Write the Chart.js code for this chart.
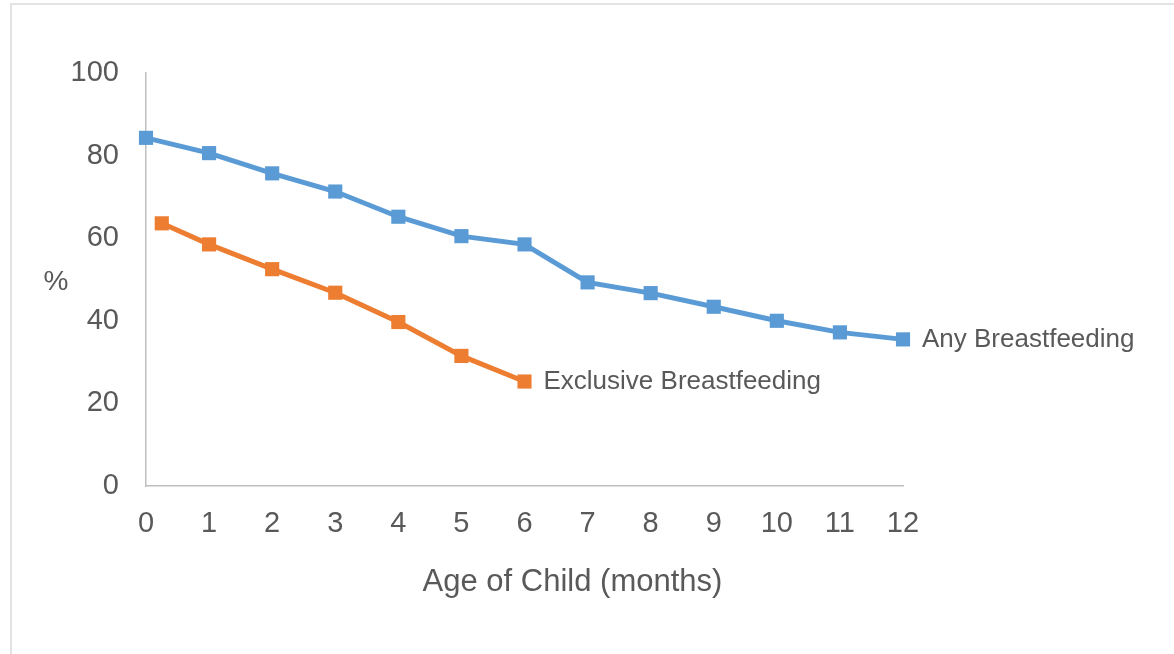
<!DOCTYPE html>
<html>
<head>
<meta charset="utf-8">
<script src="https://cdn.jsdelivr.net/npm/chart.js@4"></script>
<style>
  html, body { margin: 0; padding: 0; background: #fff; }
  #wrap { position: relative; width: 1174px; height: 654px; overflow: hidden; }
  #frame { position: absolute; left: 10px; top: 3px; right: -2px; bottom: -2px;
           border-top: 2px solid #e3e3e3; border-left: 2px solid #e3e3e3; pointer-events: none; }
  canvas { position: absolute; left: 0; top: 0; }
</style>
</head>
<body>
<div id="wrap">
  <canvas id="myChart" width="1174" height="654"></canvas>
  <div id="frame"></div>
</div>
<script>
// months on the x axis
let months = [0, 1, 2, 3, 4, 5, 6, 7, 8, 9, 10, 11, 12]
// any breastfeeding, %
let anyValues = [84.3, 80.6, 75.7, 71.3, 65.2, 60.5, 58.5, 49.3, 46.7, 43.4, 40.0, 37.2, 35.5]
// exclusive breastfeeding, % (first point sits just after birth)
let exclusiveMonths = [0.25, 1, 2, 3, 4, 5, 6]
let exclusiveValues = [63.6, 58.5, 52.5, 46.8, 39.7, 31.5, 25.3]
let seriesNames = ['Any Breastfeeding', 'Exclusive Breastfeeding']
let yTicks = [0, 20, 40, 60, 80, 100]
let xTitle = 'Age of Child (months)'
let yTitle = '%'

let textColor = '#595959'
let fontFamily = '"Liberation Sans", Arial, sans-serif'

function toPoints(xs, ys) {
  return xs.map(function(x, i) { return { x: x, y: ys[i] } })
}

// writes the series name next to the last point of each line, plus both axis titles
let endLabels = {
  id: 'endLabels',
  afterDatasetsDraw: function(chart) {
    let ctx = chart.ctx
    ctx.save()
    ctx.fillStyle = textColor
    ctx.font = '26px ' + fontFamily
    ctx.textBaseline = 'middle'
    ctx.textAlign = 'left'
    chart.data.datasets.forEach(function(ds, i) {
      let meta = chart.getDatasetMeta(i)
      let last = meta.data[meta.data.length - 1]
      ctx.fillText(ds.label, last.x + 19, last.y)
    })
    let area = chart.chartArea
    // horizontal y title
    ctx.font = '28px ' + fontFamily
    ctx.textAlign = 'center'
    ctx.fillText(yTitle, area.left - 90, (area.top + area.bottom) / 2 + 3)
    // x title, sits a little right of the axis centre like the original
    ctx.font = '31px ' + fontFamily
    ctx.fillText(xTitle, (area.left + area.right) / 2 + 48, area.bottom + 96)
    ctx.restore()
  }
}

new Chart('myChart', {
  type: 'line',
  data: {
    datasets: [{
      label: seriesNames[0],
      data: toPoints(months, anyValues),
      borderColor: '#5B9BD5',
      backgroundColor: '#5B9BD5',
      borderWidth: 5,
      pointStyle: 'rect',
      pointRadius: 10,
      pointBorderWidth: 0,
      tension: 0,
      clip: false
    }, {
      label: seriesNames[1],
      data: toPoints(exclusiveMonths, exclusiveValues),
      borderColor: '#ED7D31',
      backgroundColor: '#ED7D31',
      borderWidth: 5,
      pointStyle: 'rect',
      pointRadius: 10,
      pointBorderWidth: 0,
      tension: 0,
      clip: false
    }]
  },
  options: {
    responsive: false,
    animation: false,
    layout: { padding: { left: 0, right: 271, top: 73, bottom: 0 } },
    plugins: {
      legend: { display: false },
      tooltip: { enabled: false }
    },
    scales: {
      x: {
        type: 'linear',
        min: 0,
        max: 12,
        grid: { display: false },
        border: { display: true, color: '#bfbfbf', width: 1.5 },
        ticks: {
          stepSize: 1,
          padding: 13,
          color: textColor,
          font: { family: fontFamily, size: 29 }
        },
        afterFit: function(scale) { scale.height = 168 }
      },
      y: {
        min: 0,
        max: 100,
        grid: { display: false },
        border: { display: true, color: '#bfbfbf', width: 1.5 },
        afterBuildTicks: function(scale) {
          scale.ticks = yTicks.map(function(v) { return { value: v } })
        },
        ticks: {
          padding: 19,
          color: textColor,
          font: { family: fontFamily, size: 29 }
        },
        afterFit: function(scale) { scale.width = 146 }
      }
    }
  },
  plugins: [endLabels]
})
</script>
</body>
</html>
